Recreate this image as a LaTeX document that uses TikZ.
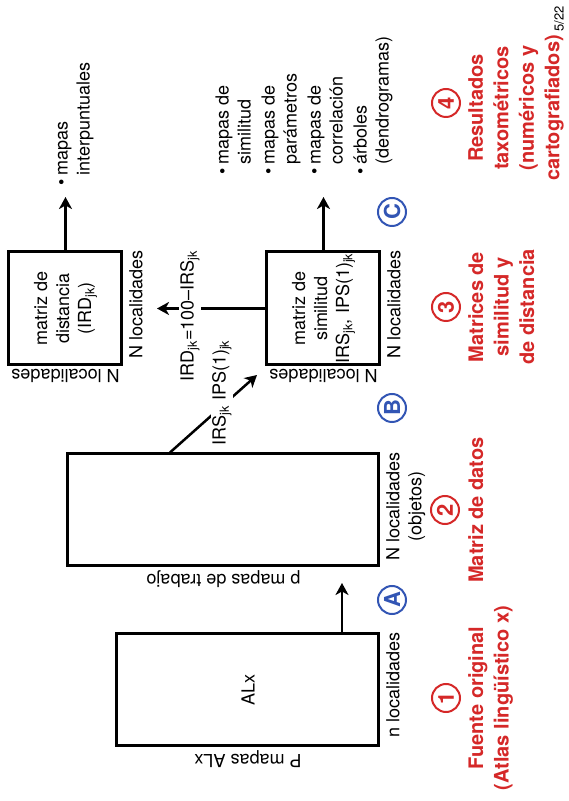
\documentclass[tikz,border=0pt]{standalone}
\usepackage{fontspec}
\setmainfont{TeX Gyre Heros}
\usetikzlibrary{arrows.meta,calc,positioning}

\definecolor{rojo}{RGB}{213,40,40}
\definecolor{azul}{RGB}{50,85,180}

\begin{document}
\begin{tikzpicture}[
        x=1pt, y=1pt, rotate=90, transform shape,
        every node/.style={font=\fontsize{18}{22}\selectfont},
        caja/.style={draw, line width=3pt, align=center, inner sep=0pt},
        debajo/.style={inner xsep=0pt, inner ysep=5.5pt, anchor=north east, align=center},
        lado/.style={inner sep=3pt, rotate=90, anchor=south},
        rotulo/.style={fill=white, inner sep=1.5pt},
        flecha/.style={line width=2.5pt, -{Stealth[length=12pt, width=13pt, inset=3.5pt]}},
        etapa/.style={circle, draw=rojo, line width=2pt, text=rojo, minimum size=28pt, inner sep=0pt, font=\fontsize{22}{22}\selectfont\bfseries},
        fase/.style={circle, draw=azul, line width=2pt, text=azul, minimum size=28pt, inner sep=0pt, font=\fontsize{22}{22}\selectfont\bfseries},
        titulo/.style={text=rojo, align=center, anchor=north, inner sep=0pt, font=\fontsize{20}{25.5}\selectfont\bfseries},
        lista/.style={anchor=north west, inner sep=0pt}
    ]
    \useasboundingbox (0,0) rectangle (801,568);

    % Nodes
    \node[caja, minimum width=112pt, minimum height=262pt] (alx) at (111,320) {ALx};
    \node[caja, minimum width=112pt, minimum height=311pt] (datos) at (291,344.5) {};
    \node[caja, minimum width=113pt, minimum height=113pt] (simil) at (492.5,244.5) {matriz de\\similitud\\IRS\textsubscript{jk}, IPS(1)\textsubscript{jk}};
    \node[caja, minimum width=113pt, minimum height=113pt] (dist) at (492.5,502.5) {matriz de\\distancia\\(IRD\textsubscript{jk})};

    \node[debajo] (locAlx) at (alx.south east) {n localidades};
    \node[lado] (mapasAlx) at (alx.west) {P mapas ALx};
    \node[debajo] (locDatos) at (datos.south east) {N localidades\\(objetos)};
    \node[lado] (mapasTrabajo) at (datos.west) {p mapas de trabajo};
    \node[debajo] (locSimil) at (simil.south east) {N localidades};
    \node[lado] (locSimilB) at (simil.west) {N localidades};
    \node[debajo] (locDist) at (dist.south east) {N localidades};
    \node[lado] (locDistB) at (dist.west) {N localidades};

    \node[lista] (interp) at (615,516) {\begin{tabular}{@{}l@{\hspace{4pt}}l@{}}
        \textbullet & mapas\\ & interpuntuales
    \end{tabular}};
    \node[lista] (mapasRes) at (626,355) {\begin{tabular}{@{}l@{\hspace{4pt}}l@{}}
        \textbullet & mapas de\\ & similitud\\[2pt]
        \textbullet & mapas de\\ & parámetros\\[2pt]
        \textbullet & mapas de\\ & correlación\\[2pt]
        \textbullet & árboles\\ & (dendrogramas)
    \end{tabular}};

    % Arrows
    \coordinate (puntaA) at (218,226);
    \coordinate (puntaB) at (426,311);
    \coordinate (puntaD) at (492.5,411);
    \coordinate (puntaE) at (604,502.5);
    \coordinate (puntaF) at (604,244.5);

    \draw[flecha] (alx.east |- puntaA) -- (puntaA);
    \draw[flecha] ($(datos.east)+(0,53.5)$) -- (puntaB);
    \draw[flecha] (simil) -- (puntaD);
    \draw[flecha] (dist) -- (puntaE);
    \draw[flecha] (simil) -- (puntaF);

    \node[rotulo] (irs) at (408,346) {IRS\textsubscript{jk} IPS(1)\textsubscript{jk}};
    \node[rotulo] (ird) at (485,378) {IRD\textsubscript{jk}=100--IRS\textsubscript{jk}};

    % Steps
    \node[fase] (faseA) at (201,176) {A};
    \node[fase] (faseB) at (393,176) {B};
    \node[fase] (faseC) at (589,176) {C};

    \node[etapa] (uno) at (103,122) {1};
    \node[titulo] (fuente) at (103,100) {Fuente original\\(Atlas lingüístico x)};
    \node[etapa] (dos) at (291,123) {2};
    \node[titulo] (matDatos) at (291,100) {Matriz de datos};
    \node[etapa] (tres) at (494,122) {3};
    \node[titulo] (matrices) at (494,100) {Matrices de\\similitud y\\de distancia};
    \node[etapa] (cuatro) at (698,122) {4};
    \node[titulo] (resultados) at (693,100) {Resultados\\taxométricos\\(numéricos y\\cartografiados)};
    \node[font=\fontsize{13}{15}\selectfont, inner sep=0pt] (pagina) at (782,9) {5/22};
\end{tikzpicture}
\end{document}
